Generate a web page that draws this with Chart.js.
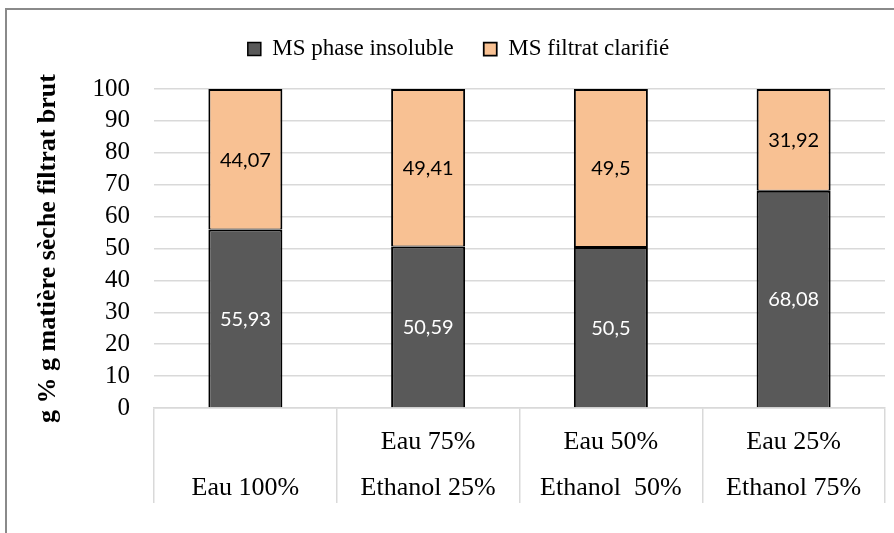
<!DOCTYPE html>
<html>
<head>
<meta charset="utf-8">
<script src="https://cdn.jsdelivr.net/npm/chart.js@4"></script>
<style>
  html, body { margin: 0; padding: 0; background: #fff; }
  #wrap { position: relative; width: 894px; height: 533px; overflow: hidden; }
  #frame { position: absolute; left: 5px; top: 8px; width: 1000px; height: 1000px;
           border-left: 2px solid #8a8a8a; border-top: 2px solid #8a8a8a; }
  canvas { position: absolute; left: 0; top: 0; }
</style>
</head>
<body>
<div id="wrap">
  <div id="frame"></div>
  <canvas id="chart" width="894" height="533"></canvas>
</div>
<script>
let categories = [
    ['', 'Eau 100%'],
    ['Eau 75%', 'Ethanol 25%'],
    ['Eau 50%', 'Ethanol  50%'],
    ['Eau 25%', 'Ethanol 75%']
];
let ms_insoluble = [55.93, 50.59, 50.5, 68.08];
let ms_filtrat = [44.07, 49.41, 49.5, 31.92];
let series_names = ['MS phase insoluble', 'MS filtrat clarifié'];
let y_title = 'g % g matière sèche filtrat brut';

let serif = "'Liberation Serif', 'Times New Roman', serif";

// writes the value in the middle of every stacked segment, with a comma
let value_labels = {
    id: 'value_labels',
    afterDatasetsDraw(chart) {
        let ctx = chart.ctx;
        ctx.save();
        ctx.font = "20px Lato, 'Noto Sans', sans-serif";
        ctx.textAlign = 'center';
        ctx.textBaseline = 'middle';
        chart.data.datasets.forEach((ds, i) => {
            let meta = chart.getDatasetMeta(i);
            ctx.fillStyle = i == 0 ? '#ffffff' : '#000000';
            meta.data.forEach((bar, j) => {
                let c = bar.getCenterPoint();
                ctx.fillText(String(ds.data[j]).replace('.', ','), c.x, c.y + 1);
            });
        });
        ctx.restore();
    }
};

let bar_chart = new Chart(document.getElementById('chart'), {
    type: 'bar',
    data: {
        labels: categories,
        datasets: [{
            label: series_names[0],
            data: ms_insoluble,
            backgroundColor: '#595959',
            borderColor: '#000000',
            borderWidth: { top: 2, left: 2, right: 2, bottom: 0 },
            borderSkipped: false,
            barPercentage: 0.405,
            categoryPercentage: 1
        }, {
            label: series_names[1],
            data: ms_filtrat,
            backgroundColor: '#f8c193',
            borderColor: '#000000',
            borderWidth: { top: 2, left: 2, right: 2, bottom: 1 },
            borderSkipped: false,
            barPercentage: 0.405,
            categoryPercentage: 1
        }]
    },
    options: {
        responsive: false,
        animation: false,
        layout: { padding: { left: 32, right: 9, top: 7.5, bottom: 0 } },
        plugins: {
            legend: {
                display: true,
                position: 'top',
                labels: {
                    font: { family: serif, size: 23 },
                    color: '#000',
                    boxWidth: 13,
                    boxHeight: 13,
                    padding: 30
                }
            },
            // empty title, only keeps some room between legend and plot
            title: {
                display: true,
                text: '',
                weight: 500,
                padding: 0,
                font: { size: 15, lineHeight: '18.5px' }
            },
            tooltip: { enabled: false }
        },
        scales: {
            x: {
                stacked: true,
                grid: {
                    offset: true,
                    drawOnChartArea: false,
                    drawTicks: true,
                    tickLength: 95,
                    color: '#d9d9d9',
                    lineWidth: 1.5
                },
                border: { display: true, color: '#d9d9d9', width: 1.5 },
                ticks: {
                    color: '#000',
                    font: { family: serif, size: 26, lineHeight: 46 / 26 },
                    padding: -84,
                    autoSkip: false,
                    maxRotation: 0,
                    minRotation: 0
                },
                afterFit: s => { s.height = 125; }
            },
            y: {
                stacked: true,
                min: 0,
                max: 100,
                ticks: {
                    stepSize: 10,
                    autoSkip: false,
                    color: '#000',
                    font: { family: serif, size: 25 },
                    padding: 24
                },
                grid: { color: '#d9d9d9', lineWidth: 1.5, drawTicks: false },
                border: { display: false },
                title: {
                    display: true,
                    text: y_title,
                    color: '#000',
                    font: { family: serif, size: 26, weight: 'bold' },
                    padding: { top: 1, bottom: 0 }
                },
                afterFit: s => { s.width = 122; }
            }
        }
    },
    plugins: [value_labels]
});
</script>
</body>
</html>
